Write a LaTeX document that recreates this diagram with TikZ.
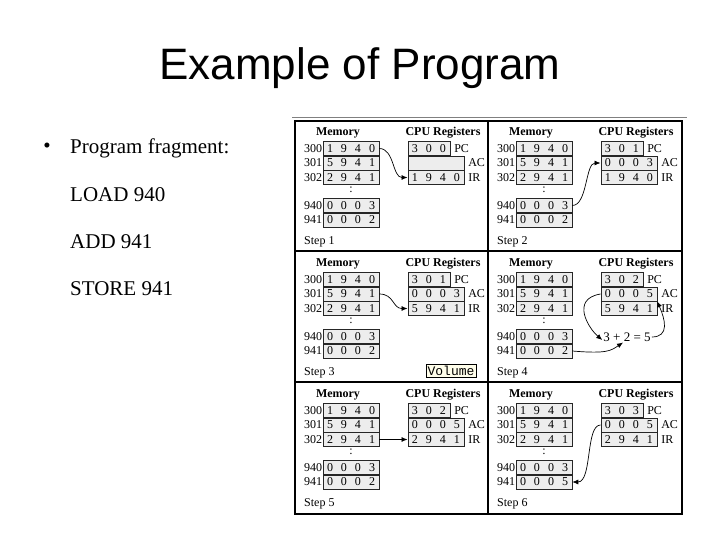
\documentclass[tikz,border=0pt]{standalone}
\usepackage{fontspec}
\setmainfont{Liberation Serif}
\newfontfamily\titlefont{Liberation Sans}
\setmonofont{Liberation Mono}
\usetikzlibrary{arrows.meta, positioning, shadows}

\newcommand\dg[1]{\makebox[14pt]{#1}}
\def\fourdg#1#2#3#4{\dg{#1}\dg{#2}\dg{#3}\dg{#4}}
\def\threedg#1#2#3{\dg{#1}\dg{#2}\dg{#3}}

% one step: memory on the left, CPU registers on the right
\newcommand\steppanel[8]{%
  \begin{scope}[shift={(#2,#3)}]
    \node[head] (#1-mh) at (43,13) {Memory};
    \node[head] (#1-ch) at (148,13) {CPU Registers};
    \node[mem] (#1-300) at (56,28.5) {\fourdg1940};
    \node[mem] (#1-301) at (56,43) {\fourdg5941};
    \node[mem] (#1-302) at (56,57.5) {\fourdg2941};
    \node[lbl] (#1-dots) at (56,70) {:};
    \node[mem] (#1-940) at (56,85.5) {\fourdg0003};
    \node[mem] (#1-941) at (56,100) {#8};
    \foreach \a in {300,301,302,940,941}
      \node[addr, left=0.5pt of #1-\a] {\a};
    \node[mem, minimum width=42pt, anchor=west] (#1-pc) at (112.5,28.5) {#5};
    \node[mem, anchor=west] (#1-ac) at (112.5,43) {#6};
    \node[mem, anchor=west] (#1-ir) at (112.5,57.5) {#7};
    \node[lbl, right=4pt of #1-pc] {PC};
    \node[lbl, right=4pt of #1-ac] {AC};
    \node[lbl, right=4pt of #1-ir] {IR};
    \node[lbl, anchor=west] (#1-step) at (9,122) {Step #4};
  \end{scope}}

\begin{document}
\begin{tikzpicture}[x=1pt, y=-1pt,
    title/.style={font=\titlefont\fontsize{44}{48}\selectfont, inner sep=0pt},
    txt/.style={font=\fontsize{21}{24}\selectfont, inner sep=0pt},
    head/.style={font=\bfseries\fontsize{12}{14}\selectfont, inner sep=0pt},
    lbl/.style={font=\fontsize{12}{14}\selectfont, inner sep=0pt},
    addr/.style={font=\fontsize{12}{14}\selectfont, inner sep=0pt},
    mem/.style={draw=black!85, fill=gray!14, line width=0.6pt, minimum width=56pt,
                minimum height=14pt, inner sep=0pt, font=\fontsize{12}{14}\selectfont,
                drop shadow={shadow xshift=0.9pt, shadow yshift=-0.9pt, fill=black!75, opacity=1}},
    arr/.style={-{Latex[length=6pt, width=5pt]}, line width=0.7pt, black}]
  \useasboundingbox (0,0) rectangle (720,540);

  \node[title] (title) at (360,68) {Example of Program};

  \node[txt] (bullet) at (47,148) {\textbullet};
  \node[txt, anchor=west] (frag) at (70,148) {Program fragment:};
  \node[txt, below=47pt of frag.west, anchor=west] (load) {LOAD 940};
  \node[txt, below=47pt of load.west, anchor=west] (add) {ADD 941};
  \node[txt, below=47pt of add.west, anchor=west] (store) {STORE 941};

  % frame of the six steps
  \draw[gray, line width=0.8pt] (292,117) -- (687,117);
  \draw[line width=1.6pt] (295,121) rectangle (682,514);
  \draw[line width=1.2pt] (488,121) -- (488,514) (295,251) -- (682,251) (295,382) -- (682,382);

  \steppanel{s1}{295}{120}{1}{\threedg300}{}{\fourdg1940}{\fourdg0002}
  \steppanel{s2}{488}{120}{2}{\threedg301}{\fourdg0003}{\fourdg1940}{\fourdg0002}
  \steppanel{s3}{295}{251}{3}{\threedg301}{\fourdg0003}{\fourdg5941}{\fourdg0002}
  \steppanel{s4}{488}{251}{4}{\threedg302}{\fourdg0005}{\fourdg5941}{\fourdg0002}
  \steppanel{s5}{295}{382}{5}{\threedg302}{\fourdg0005}{\fourdg2941}{\fourdg0002}
  \steppanel{s6}{488}{382}{6}{\threedg303}{\fourdg0005}{\fourdg2941}{\fourdg0005}

  \draw[arr] (s1-300.east) .. controls +(15,0) and +(-15,0) .. (s1-ir.west);
  \draw[arr] (s2-940.east) .. controls +(15,0) and +(-15,0) .. (s2-ac.west);
  \draw[arr] (s3-301.east) .. controls +(15,0) and +(-15,0) .. (s3-ir.west);

  \node[lbl, font=\fontsize{13}{15}\selectfont, inner sep=1pt] (s4-sum) at (627,337) {3 + 2 = 5};
  \draw[arr] (s4-ac.west) .. controls +(-30,5) and +(-14,-12) .. ([yshift=-3pt]s4-sum.west);
  \draw[arr] (s4-941.east) .. controls +(35,3) and +(-12,8) .. ([xshift=-4pt]s4-sum.south);
  \draw[arr] (s4-sum.east) .. controls +(18,0) and +(8,18) .. (s4-ac.south east);

  \draw[arr] (s5-302.east) -- (s5-ir.west);
  \draw[arr] (s6-ac.west) .. controls +(-15,0) and +(20,0) .. (s6-941.east);

  \node[draw, fill=yellow!8, font=\ttfamily\fontsize{13}{15}\selectfont, inner sep=1.5pt] (vol) at (451,370.5) {Volume};
\end{tikzpicture}
\end{document}
